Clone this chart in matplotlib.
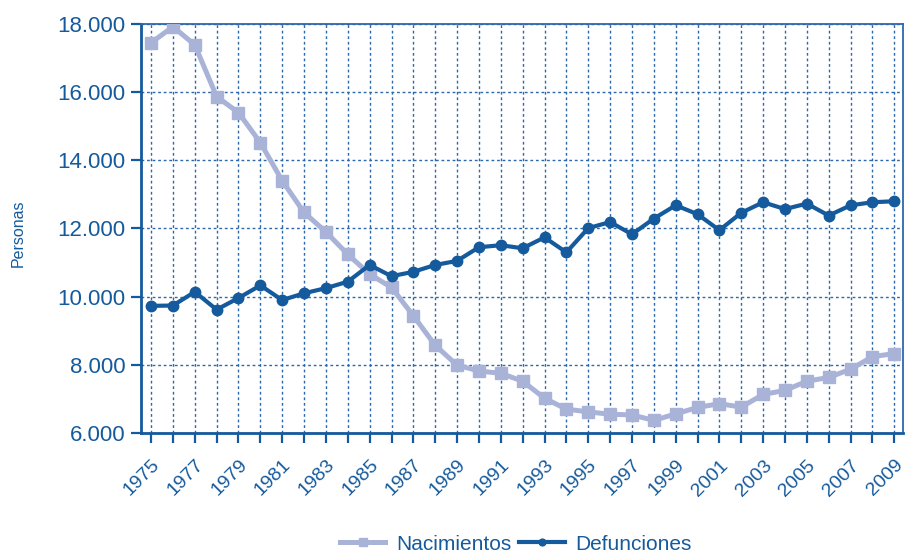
import matplotlib
matplotlib.use("Agg")
import matplotlib.pyplot as plt
from matplotlib.ticker import FuncFormatter

plt.rcParams["font.family"] = ["Liberation Sans", "DejaVu Sans"]

# data
years = list(range(1975, 2010))
nacimientos = [17450, 17920, 17390, 15870, 15400, 14520, 13400, 12470, 11900, 11240,
               10660, 10270, 9440, 8570, 7990, 7820, 7750, 7520, 7020, 6700,
               6620, 6550, 6530, 6370, 6560, 6750, 6860, 6760, 7130, 7250,
               7520, 7630, 7870, 8240, 8330]
defunciones = [9730, 9740, 10140, 9620, 9960, 10330, 9900, 10100, 10250, 10440,
               10930, 10600, 10730, 10930, 11050, 11450, 11510, 11420, 11740, 11300,
               12010, 12190, 11830, 12290, 12680, 12420, 11950, 12460, 12770, 12570,
               12730, 12380, 12680, 12770, 12800]
y_ticks = [6000, 8000, 10000, 12000, 14000, 16000, 18000]

DARK = "#155a9c"
LIGHT = "#a9b3d8"
GRID = "#2d68aa"

fig = plt.figure(figsize=(9.05, 5.53), dpi=100)
ax = fig.add_axes([0.1558, 0.217, 0.842, 0.7396])

ax.plot(years, nacimientos, color=LIGHT, lw=3.6, marker="s", ms=9,
        label="Nacimientos", zorder=3)
ax.plot(years, defunciones, color=DARK, lw=3.0, marker="o", ms=7.5,
        label="Defunciones", zorder=4)

ax.set_xlim(1975 - 0.46, 2009 + 0.4)
ax.set_ylim(6000, 18000)
ax.set_yticks(y_ticks)
ax.yaxis.set_major_formatter(FuncFormatter(lambda v, p: f"{int(v):,}".replace(",", ".")))
ax.set_xticks(years)
ax.set_xticklabels([str(y) if (y - 1975) % 2 == 0 else "" for y in years])

ax.grid(True, color=GRID, lw=1.0, ls=(0, (2, 2)))
ax.set_axisbelow(True)

for side in ["left", "bottom"]:
    ax.spines[side].set_color(DARK)
    ax.spines[side].set_linewidth(2.0)
for side in ["top", "right"]:
    ax.spines[side].set_color(GRID)
    ax.spines[side].set_linewidth(1.3)

ax.tick_params(axis="y", colors=DARK, labelsize=16, length=7, width=1.6, pad=4)
ax.tick_params(axis="x", colors=DARK, labelsize=14, length=7, width=1.6, pad=10)
for lbl in ax.get_xticklabels():
    lbl.set_rotation(45)
    lbl.set_ha("right")
    lbl.set_va("top")
    lbl.set_rotation_mode("anchor")

fig.text(0.02, 0.578, "Personas", rotation=90, color=DARK, fontsize=11.5,
         ha="center", va="center")

fig.legend(loc="center", bbox_to_anchor=(0.57, 0.016), ncol=2,
           frameon=False, fontsize=15, handlelength=2.2, handletextpad=0.5,
           columnspacing=0.4, markerscale=0.65, labelcolor=DARK)

fig.savefig("out.png", dpi=100)
